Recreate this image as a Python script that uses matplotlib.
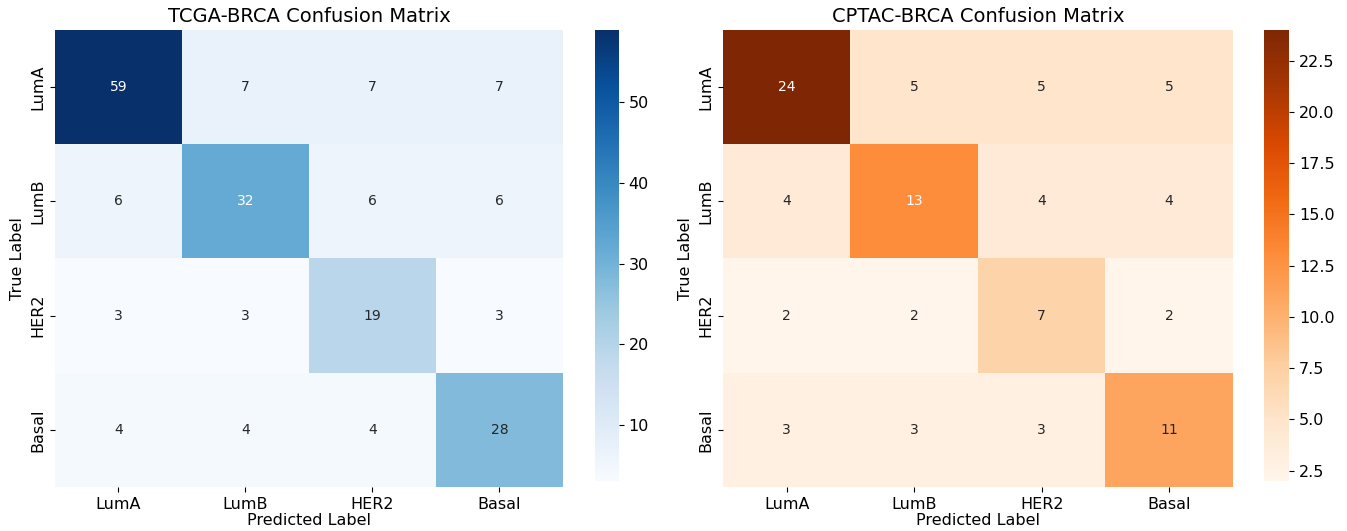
import numpy as np
import matplotlib
matplotlib.use('Agg')
import matplotlib.pyplot as plt
import seaborn as sns

# data
labels = ['LumA', 'LumB', 'HER2', 'Basal']
tcga_cm = [[59, 7, 7, 7],
           [6, 32, 6, 6],
           [3, 3, 19, 3],
           [4, 4, 4, 28]]
cptac_cm = [[24, 5, 5, 5],
            [4, 13, 4, 4],
            [2, 2, 7, 2],
            [3, 3, 3, 11]]

fig = plt.figure(figsize=(13.47, 5.31), dpi=100)

ax1 = fig.add_axes([0.0408, 0.0829, 0.3771, 0.8606])
cax1 = fig.add_axes([0.4417, 0.0942, 0.0178, 0.8493])
ax2 = fig.add_axes([0.5367, 0.0829, 0.3786, 0.8606])
cax2 = fig.add_axes([0.9384, 0.0942, 0.0186, 0.8493])

panels = [(ax1, cax1, tcga_cm, 'Blues', 'TCGA-BRCA Confusion Matrix'),
          (ax2, cax2, cptac_cm, 'Oranges', 'CPTAC-BRCA Confusion Matrix')]

for ax, cax, cm, cmap, title in panels:
    sns.heatmap(np.array(cm), annot=True, fmt='d', cmap=cmap, ax=ax, cbar_ax=cax,
                xticklabels=labels, yticklabels=labels,
                annot_kws={'fontsize': 10})
    ax.set_title(title, fontsize=14)
    ax.set_xlabel('Predicted Label', fontsize=11.5, labelpad=1)
    ax.set_ylabel('True Label', fontsize=11.5)
    ax.tick_params(labelsize=11.5)
    cax.tick_params(labelsize=11.5)
    for s in cax.spines.values():
        s.set_visible(False)

fig.savefig('out.png', dpi=100)
